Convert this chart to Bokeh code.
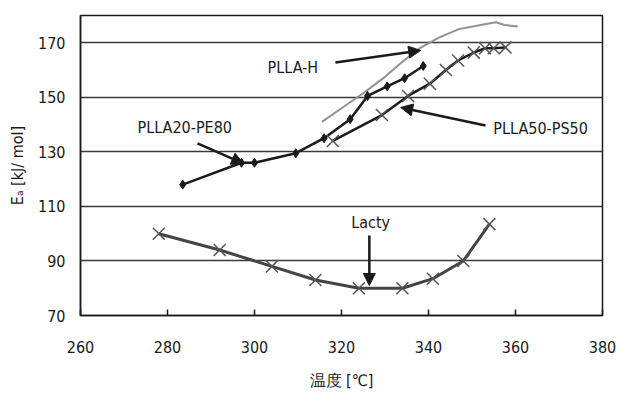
from bokeh.plotting import figure
from bokeh.models import Range1d, FixedTicker, Arrow, NormalHead, Label
from bokeh.embed import file_html
from bokeh.resources import INLINE

# ---- data ----
x_ticks = [260, 280, 300, 320, 340, 360, 380]
y_ticks = [70, 90, 110, 130, 150, 170]

lacty_t = [278, 292, 304, 314, 324, 334, 341, 348, 354]
lacty_e = [100, 94, 88, 83, 80, 80, 83.5, 90, 103.5]

pe80_t = [283.5, 297, 300, 309.5, 316, 322, 326, 330.5, 334.5, 338.8]
pe80_e = [118, 126, 126, 129.5, 135, 142, 150.5, 154, 157, 161.5]

ps50_t = [318, 329.3, 335.3, 340.3, 344, 346.8, 350.4, 353, 355, 357.7]
ps50_e = [134, 143.5, 150.5, 155, 160, 163.5, 166.4, 168, 168, 168.3]

plah_t = [315.5, 320, 325, 330, 334, 338, 342.5, 347, 352, 355.5, 357.5, 360.5]
plah_e = [141, 146, 151.5, 157.5, 163, 168, 172, 175, 176.5, 177.5, 176.5, 176]

FONT = "DejaVu Sans Condensed, Liberation Sans, sans-serif"
INK = "#1a1a1a"

p = figure(width=617, height=394, output_backend="svg", toolbar_location=None,
           x_range=Range1d(260, 380), y_range=Range1d(70, 180),
           min_border_left=80, min_border_right=15, min_border_top=15,
           min_border_bottom=79, background_fill_color="white",
           border_fill_color="white")

p.outline_line_color = INK
p.outline_line_width = 1.5
p.outline_line_alpha = 1

p.xgrid.visible = False
p.ygrid.ticker = FixedTicker(ticks=y_ticks)
p.ygrid.grid_line_color = "#3a3a3a"
p.ygrid.grid_line_width = 1.5
p.ygrid.grid_line_alpha = 1

p.xaxis.ticker = FixedTicker(ticks=x_ticks)
p.yaxis.ticker = FixedTicker(ticks=y_ticks)
for ax in (p.xaxis[0], p.yaxis[0]):
    ax.axis_line_color = INK
    ax.axis_line_width = 1.5
    ax.minor_tick_line_color = None
    ax.major_label_text_font = FONT
    ax.major_label_text_font_size = "16px"
    ax.major_label_text_color = INK
    ax.axis_label_text_font = FONT
    ax.axis_label_text_font_size = "16px"
    ax.axis_label_text_font_style = "normal"
    ax.axis_label_text_color = INK

p.xaxis.major_tick_in = 6
p.xaxis.major_tick_out = 0
p.xaxis.major_tick_line_color = INK
p.xaxis.major_tick_line_width = 1.5
p.xaxis.major_label_standoff = 25
p.xaxis.axis_label = "温度 [℃]"
p.xaxis.axis_label_standoff = 15

p.yaxis.major_tick_in = 0
p.yaxis.major_tick_out = 0
p.yaxis.major_label_standoff = 15
p.yaxis.axis_label = "Eₐ [kJ/ mol]"
p.yaxis.axis_label_standoff = 8

# ---- series ----
p.line(plah_t, plah_e, line_color="#909090", line_width=2)

p.line(pe80_t, pe80_e, line_color=INK, line_width=2.5)
p.scatter(pe80_t, pe80_e, marker="diamond", size=9, fill_color=INK, line_color=INK)

p.line(ps50_t, ps50_e, line_color=INK, line_width=2.5)
p.scatter(ps50_t, ps50_e, marker="x", size=17, line_color="#555555", line_width=1.5)

p.line(lacty_t, lacty_e, line_color="#444444", line_width=3)
p.scatter(lacty_t, lacty_e, marker="x", size=17, line_color="#555555", line_width=1.5)

# ---- annotations ----
def arrow(x0, y0, x1, y1):
    p.add_layout(Arrow(end=NormalHead(size=12, fill_color=INK, line_color=INK),
                       x_start=x0, y_start=y0, x_end=x1, y_end=y1,
                       line_color=INK, line_width=2.5))

def label(x, y, text, align="left"):
    p.add_layout(Label(x=x, y=y, text=text, text_font=FONT, text_font_size="16px",
                       text_color=INK, text_align=align, text_baseline="middle"))

label(303, 161, "PLLA-H")
arrow(318.6, 162.8, 338.2, 167.2)

label(273.1, 138.9, "PLLA20-PE80")
arrow(286.9, 133.1, 297.5, 125.7)

label(354.9, 138.6, "PLLA50-PS50")
arrow(353.1, 139.7, 333.6, 146.3)

label(326.7, 104.1, "Lacty", align="center")
arrow(326.4, 99.3, 326.4, 81)

open("out.html", "w").write(file_html(p, INLINE))
